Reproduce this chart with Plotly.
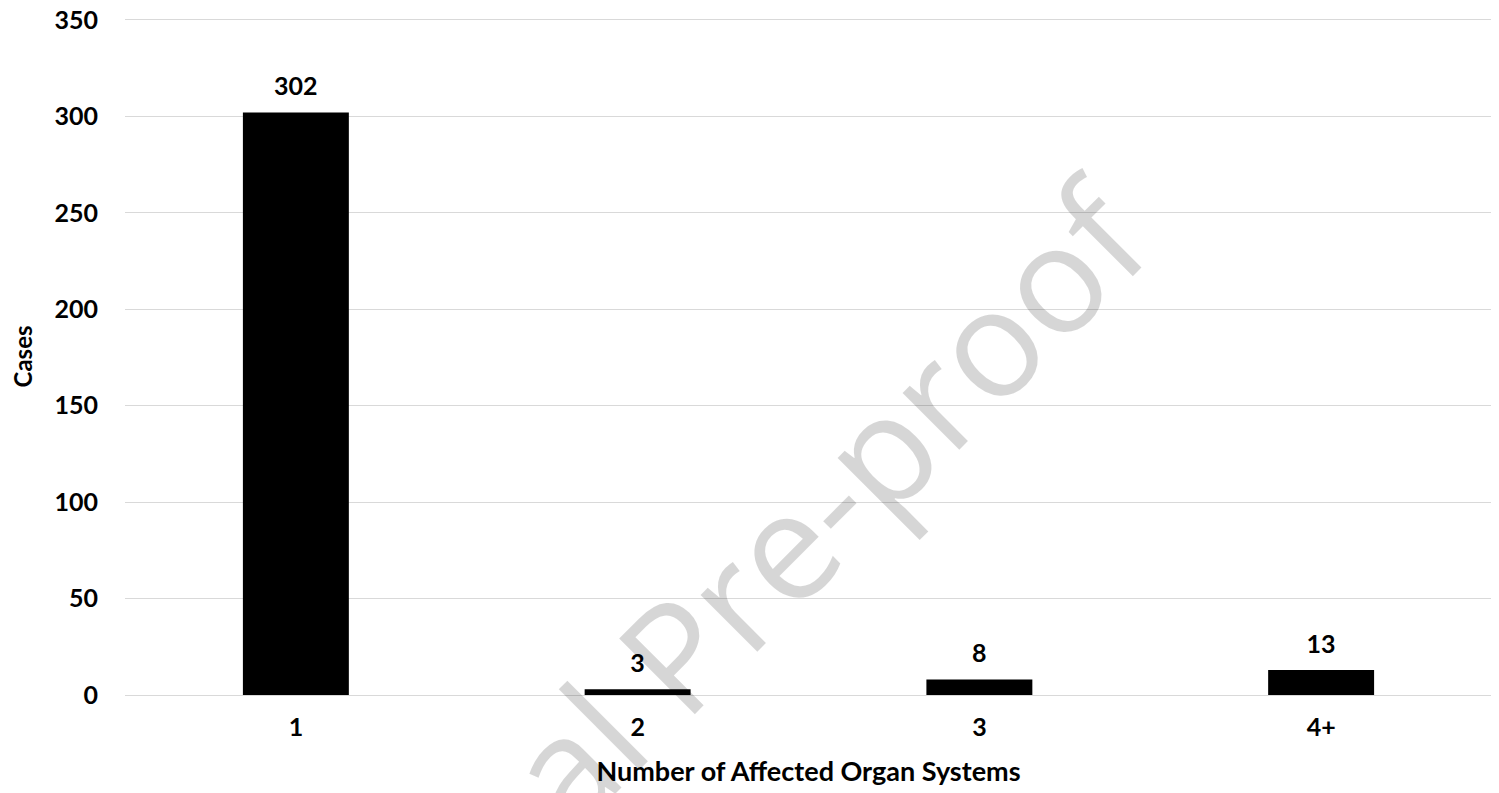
import plotly.graph_objects as go

categories = ["1", "2", "3", "4+"]
cases = [302, 3, 8, 13]
y_ticks = [0, 50, 100, 150, 200, 250, 300, 350]

# page body has an 8px margin; size the figure so it fits the window
OFF = 8
W, H = 1499 - OFF, 793 - OFF
Y_TOP = 351  # a hair above the last tick so its gridline is drawn
PX_PER_UNIT = (695 - 20) / 350.0
top_px = 695 - Y_TOP * PX_PER_UNIT
ML = 125 - OFF
MT = int(round(top_px)) - OFF
MR = W - (1492 - OFF)
MB = H - (695 - OFF)
FONT = "Lato"

fig = go.Figure()
fig.add_trace(
    go.Bar(
        x=categories,
        y=cases,
        marker=dict(color="#000000", line=dict(width=0)),
        hoverinfo="skip",
    )
)
# value labels, lifted above each bar by an invisible marker
fig.add_trace(
    go.Scatter(
        x=categories,
        y=cases,
        mode="markers+text",
        marker=dict(size=16, color="rgba(0,0,0,0)"),
        text=[str(v) for v in cases],
        textposition="top center",
        textfont=dict(family=FONT, size=25, color="#000000", weight="bold"),
        cliponaxis=False,
        hoverinfo="skip",
    )
)

# watermark centre in window pixels -> paper coords
wx, wy = 688, 639
fig.add_annotation(
    text="Journal Pre-proof",
    xref="paper", yref="paper",
    x=(wx - 125) / (1492 - 125),
    y=(695 - wy) / (695 - top_px),
    xanchor="center", yanchor="middle",
    textangle=-45,
    showarrow=False,
    font=dict(family="Open Sans", size=150, color="rgba(0,0,0,0.16)"),
)

fig.update_layout(
    width=W, height=H,
    margin=dict(l=ML, r=MR, t=MT, b=MB, autoexpand=False),
    paper_bgcolor="white",
    plot_bgcolor="white",
    bargap=0.69,
    showlegend=False,
    font=dict(family=FONT, color="#000000"),
    xaxis=dict(
        type="category",
        automargin=False,
        showgrid=False,
        showline=False,
        ticks="outside", ticklen=0,
        ticklabelstandoff=10,
        tickfont=dict(family=FONT, size=25, color="#000000", weight="bold"),
        title=dict(text="Number of Affected Organ Systems",
                   font=dict(family=FONT, size=27, color="#000000", weight="bold"),
                   standoff=22),
    ),
    yaxis=dict(
        range=[0, Y_TOP],
        tickvals=y_ticks,
        automargin=False,
        ticklabeloverflow="allow",
        showgrid=True,
        gridcolor="#d9d9d9",
        gridwidth=1,
        zeroline=True,
        zerolinecolor="#d9d9d9",
        zerolinewidth=1,
        showline=False,
        ticks="outside", ticklen=0,
        ticklabelstandoff=21,
        tickfont=dict(family=FONT, size=25, color="#000000", weight="bold"),
        title=dict(text="Cases",
                   font=dict(family=FONT, size=24, color="#000000", weight="bold"),
                   standoff=22),
    ),
)

fig.write_html("out.html")
